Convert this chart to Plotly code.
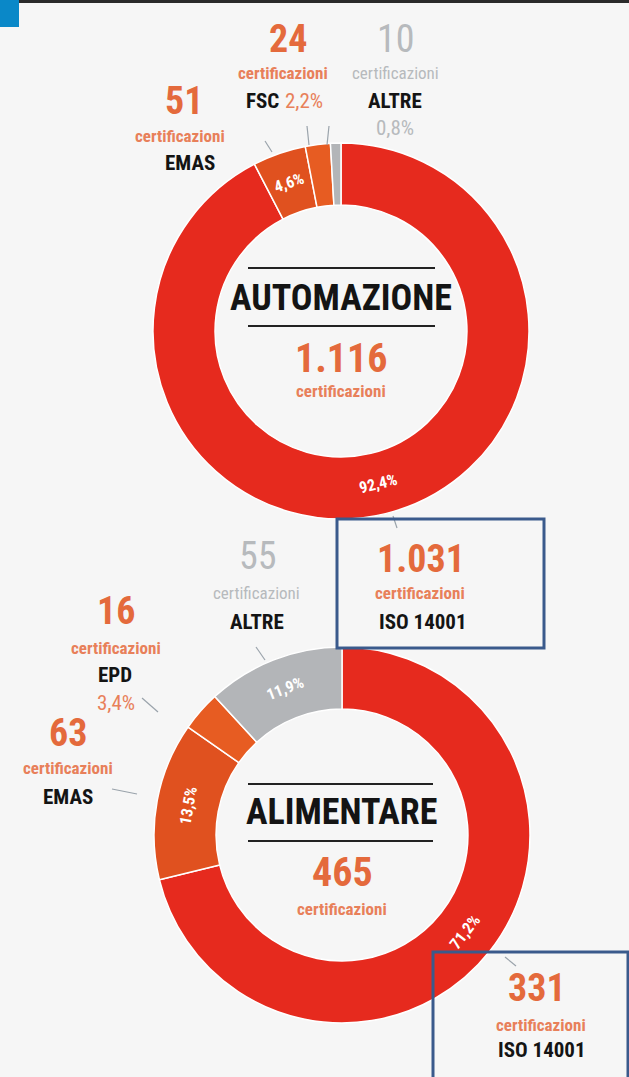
import math
import plotly.graph_objects as go

# ---------------- data ----------------
top_labels = ["ISO 14001", "EMAS", "FSC", "ALTRE"]
top_values = [1031, 51, 24, 10]
top_pct = ["92,4%", "4,6%", "2,2%", "0,8%"]
top_inside = [True, True, False, False]
top_title = "AUTOMAZIONE"
top_total = "1.116"

bot_labels = ["ISO 14001", "EMAS", "EPD", "ALTRE"]
bot_values = [331, 63, 16, 55]
bot_pct = ["71,2%", "13,5%", "3,4%", "11,9%"]
bot_inside = [True, True, False, True]
bot_title = "ALIMENTARE"
bot_total = "465"

unit = "certificazioni"

# ---------------- style ----------------
W, H = 629, 1077
BG = "#f6f6f6"
RED = "#e62a1e"
ORANGE_SLICE = "#e0511f"
ORANGE_SLICE2 = "#e75c22"
GREY_SLICE = "#b3b5b8"
ORANGE_NUM = "#e46a3c"
ORANGE_TXT = "#e8805a"
GREY_TXT = "#b7babd"
BLACK = "#141414"
BOX = "#3a5a8c"
FONT = "Roboto Condensed, Open Sans Condensed, sans-serif"

top_colors = [RED, ORANGE_SLICE, ORANGE_SLICE2, GREY_SLICE]
bot_colors = [RED, ORANGE_SLICE, ORANGE_SLICE2, GREY_SLICE]


def fx(px):
    return px / W


def fy(py):
    return 1 - py / H


def dom(cx, cy, r):
    return dict(x=[fx(cx - r), fx(cx + r)], y=[fy(cy + r), fy(cy - r)])


R = 188
HOLE = 0.67

fig = go.Figure()
ann = []


def add_pie(labels, values, pct, inside, colors, cx, cy):
    fig.add_trace(go.Pie(
        labels=labels,
        values=values,
        textinfo="none",
        marker=dict(colors=colors, line=dict(color="white", width=1.5)),
        hole=HOLE,
        sort=False,
        direction="clockwise",
        rotation=0,
        domain=dom(cx, cy, R),
        hoverinfo="label+value+percent",
    ))
    # in-ring percentage labels, placed at each slice's mid-angle (tangential)
    total = sum(values)
    cum = 0
    rr = R * (1 + HOLE) / 2
    for v, p, show in zip(values, pct, inside):
        mid = (cum + v / 2) / total * 360
        cum += v
        if not show:
            continue
        a = math.radians(mid)
        x = cx + rr * math.sin(a)
        y = cy - rr * math.cos(a)
        rot = mid % 360
        if 90 < rot < 270:
            rot -= 180
        elif rot >= 270:
            rot -= 360
        ann.append(dict(x=fx(x), y=fy(y), xref="paper", yref="paper", text=p,
                        showarrow=False, xanchor="center", yanchor="middle",
                        textangle=rot,
                        font=dict(family=FONT, size=16, color="white", weight="bold")))


add_pie(top_labels, top_values, top_pct, top_inside, top_colors, 341, 331)
add_pie(bot_labels, bot_values, bot_pct, bot_inside, bot_colors, 342, 835)


def txt(x, y, s, size, color, bold=True):
    ann.append(dict(x=fx(x), y=fy(y), xref="paper", yref="paper", text=s,
                    showarrow=False, xanchor="center", yanchor="middle",
                    font=dict(family=FONT, size=size, color=color,
                              weight="bold" if bold else "normal")))


def fmt(v):
    return f"{v:,}".replace(",", ".")


NUM = 38
UNIT = 17
NAME = 21

# ---- top donut labels ----
# FSC
txt(288, 39, fmt(top_values[2]), NUM, ORANGE_NUM)
txt(283, 73, unit, UNIT, ORANGE_TXT)
txt(262, 101, "FSC", NAME, BLACK)
txt(304, 101, top_pct[2], NAME, ORANGE_TXT, bold=False)
# ALTRE
txt(396, 39, fmt(top_values[3]), NUM, GREY_TXT, bold=False)
txt(395, 73, unit, UNIT, GREY_TXT, bold=False)
txt(395, 101, "ALTRE", NAME, BLACK)
txt(395, 128, top_pct[3], NAME, GREY_TXT, bold=False)
# EMAS
txt(184, 101, fmt(top_values[1]), NUM, ORANGE_NUM)
txt(180, 136, unit, UNIT, ORANGE_TXT)
txt(190, 163, "EMAS", NAME, BLACK)
# centre
txt(341, 298, top_title, 36, BLACK)
txt(341, 358, top_total, 40, ORANGE_NUM)
txt(341, 391, unit, UNIT, ORANGE_TXT)
# ISO box
txt(421, 559, fmt(top_values[0]), NUM, ORANGE_NUM)
txt(420, 593, unit, UNIT, ORANGE_TXT)
txt(423, 622, top_labels[0], NAME, BLACK)

# ---- bottom donut labels ----
txt(258, 556, fmt(bot_values[3]), NUM, GREY_TXT, bold=False)
txt(256, 593, unit, UNIT, GREY_TXT, bold=False)
txt(257, 622, "ALTRE", NAME, BLACK)

txt(116, 611, fmt(bot_values[2]), NUM, ORANGE_NUM)
txt(116, 648, unit, UNIT, ORANGE_TXT)
txt(115, 675, "EPD", NAME, BLACK)
txt(116, 703, bot_pct[2], NAME, ORANGE_TXT, bold=False)

txt(68, 733, fmt(bot_values[1]), NUM, ORANGE_NUM)
txt(68, 768, unit, UNIT, ORANGE_TXT)
txt(68, 797, "EMAS", NAME, BLACK)

txt(341, 812, bot_title, 36, BLACK)
txt(342, 872, bot_total, 40, ORANGE_NUM)
txt(342, 909, unit, UNIT, ORANGE_TXT)

txt(537, 988, fmt(bot_values[0]), NUM, ORANGE_NUM)
txt(541, 1025, unit, UNIT, ORANGE_TXT)
txt(542, 1050, bot_labels[0], NAME, BLACK)

shapes = []


def line(x0, y0, x1, y1, color, width):
    shapes.append(dict(type="line", xref="paper", yref="paper",
                       x0=fx(x0), y0=fy(y0), x1=fx(x1), y1=fy(y1),
                       line=dict(color=color, width=width)))


def rect(x0, y0, x1, y1, color, width, fill=None):
    shapes.append(dict(type="rect", xref="paper", yref="paper",
                       x0=fx(x0), y0=fy(y0), x1=fx(x1), y1=fy(y1),
                       line=dict(color=color, width=width),
                       fillcolor=fill if fill else "rgba(0,0,0,0)",
                       layer="above"))


# top dark bar + blue square
rect(0, 0, W, 3, "#2b2b2b", 0, "#2b2b2b")
rect(0, 0, 19, 27, "#0a88c8", 0, "#0a88c8")

# centre rules
line(248, 268, 435, 268, "#222222", 2)
line(248, 326, 435, 326, "#222222", 2)
line(248, 784, 433, 784, "#222222", 2)
line(248, 841, 433, 841, "#222222", 2)

# leader lines
LEAD = "#9aa3ab"
line(265, 141, 272, 152, LEAD, 1.2)
line(307, 126, 309, 145, LEAD, 1.2)
line(329, 126, 327, 145, LEAD, 1.2)
line(393, 516, 397, 528, LEAD, 1.2)
line(256, 647, 265, 660, LEAD, 1.2)
line(142, 698, 158, 712, LEAD, 1.2)
line(112, 789, 137, 794, LEAD, 1.2)
line(505, 957, 516, 966, LEAD, 1.2)

# highlight boxes
rect(337, 519, 544, 648, BOX, 3)
rect(433, 952, 628, 1090, BOX, 3)

fig.update_layout(
    width=W, height=H,
    margin=dict(l=0, r=0, t=0, b=0),
    paper_bgcolor=BG, plot_bgcolor=BG,
    showlegend=False,
    annotations=ann,
    shapes=shapes,
)

fig.write_html("out.html", config={"displayModeBar": False},
               post_script="document.body.style.margin='0';")
